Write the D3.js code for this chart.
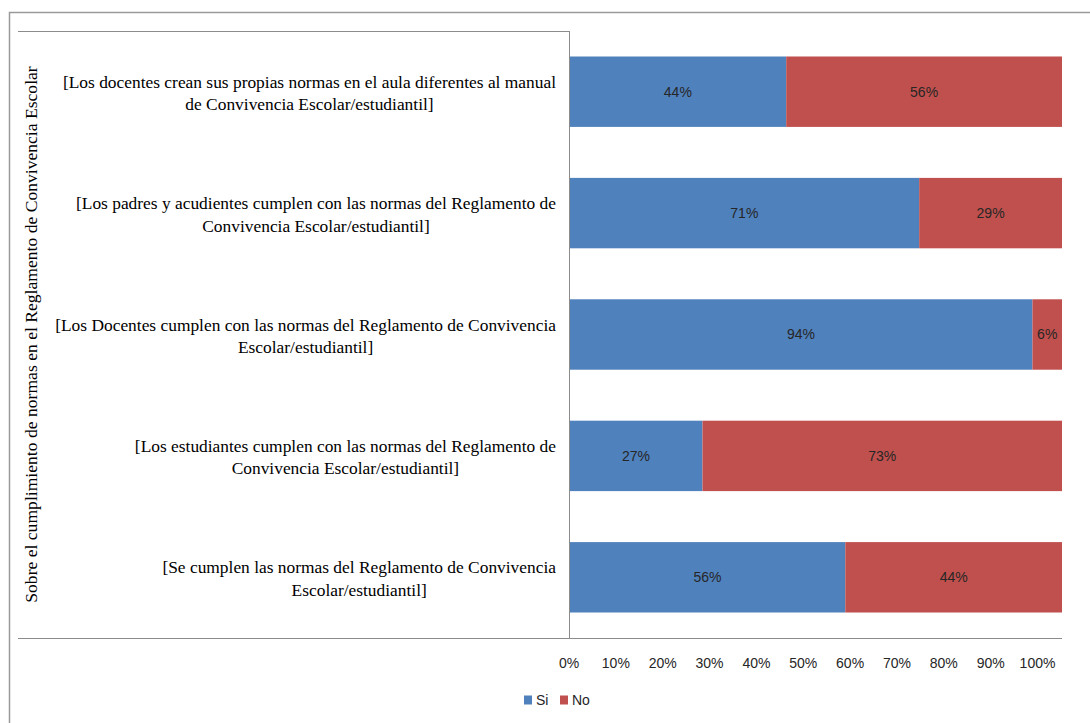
<!DOCTYPE html>
<html>
<head>
<meta charset="utf-8">
<script src="https://cdn.jsdelivr.net/npm/d3@7"></script>
<style>
  html, body { margin: 0; padding: 0; background: #fff; }
  svg { display: block; }
</style>
</head>
<body>
<svg id="chart" width="1090" height="723"></svg>
<script>
const categories = [
  ["[Los docentes crean sus propias normas en el aula diferentes al manual", "de Convivencia Escolar/estudiantil]"],
  ["[Los padres y acudientes cumplen con las normas del Reglamento de", "Convivencia Escolar/estudiantil]"],
  ["[Los Docentes cumplen con las normas del Reglamento de Convivencia", "Escolar/estudiantil]"],
  ["[Los estudiantes cumplen con las normas del Reglamento de", "Convivencia Escolar/estudiantil]"],
  ["[Se cumplen las normas del Reglamento de Convivencia", "Escolar/estudiantil]"]
];
const seriesNames = ["Si", "No"];
const siValues = [44, 71, 94, 27, 56];
const noValues = [56, 29, 6, 73, 44];
const tickValues = [0, 10, 20, 30, 40, 50, 60, 70, 80, 90, 100];
const axisTitle = "Sobre el cumplimiento de normas en el Reglamento de Convivencia Escolar";

const colors = { Si: "#4F81BD", No: "#C0504D" };
const serif = "'Liberation Serif', 'Times New Roman', serif";
const sans = "'Liberation Sans', Arial, sans-serif";

const svg = d3.select("#chart");

// outer chart border (extends beyond the visible area)
svg.append("rect")
  .attr("x", 9.5).attr("y", 12.5)
  .attr("width", 1200).attr("height", 800)
  .attr("fill", "none").attr("stroke", "#9a9a9a").attr("stroke-width", 1.5);

const plotLeft = 569.5, plotRight = 1062, plotTop = 31, plotBottom = 638;

const rows = categories.map((c, i) => ({ key: i, lines: c, Si: siValues[i], No: noValues[i] }));

const y = d3.scaleBand()
  .domain(rows.map(d => d.key))
  .range([plotTop, plotBottom])
  .paddingInner(0.42)
  .paddingOuter(0.21);

const x = d3.scaleLinear().domain([0, 100]).range([plotLeft, plotRight]);
// tick labels in the reference sit on a slightly compressed spacing
const xTicks = d3.scaleLinear().domain([0, 100]).range([plotLeft - 1, 1037]);

const stack = d3.stack().keys(seriesNames);
const stacked = stack(rows);

const g = svg.append("g");
g.selectAll("g.series")
  .data(stacked)
  .join("g")
  .attr("class", "series")
  .attr("fill", d => colors[d.key])
  .selectAll("rect")
  .data(d => d.map(v => ({ v, key: d.key })))
  .join("rect")
  .attr("x", d => x(d.v[0]))
  .attr("y", d => y(d.v.data.key))
  .attr("width", d => x(d.v[1]) - x(d.v[0]))
  .attr("height", y.bandwidth());

// data labels
g.selectAll("g.labels")
  .data(stacked)
  .join("g")
  .attr("class", "labels")
  .selectAll("text")
  .data(d => d.map(v => v))
  .join("text")
  .attr("x", d => (x(d[0]) + x(d[1])) / 2)
  .attr("y", d => y(d.data.key) + y.bandwidth() / 2)
  .attr("dy", "0.35em")
  .attr("text-anchor", "middle")
  .attr("font-family", sans)
  .attr("font-size", 14)
  .attr("fill", "#262626")
  .text(d => (d[1] - d[0]) + "%");

// axis lines
const lineColor = "#8c8c8c";
svg.append("line").attr("x1", 18).attr("x2", plotLeft).attr("y1", plotTop + 0.5).attr("y2", plotTop + 0.5)
  .attr("stroke", lineColor).attr("stroke-width", 1);
svg.append("line").attr("x1", 18).attr("x2", plotRight).attr("y1", plotBottom + 0.5).attr("y2", plotBottom + 0.5)
  .attr("stroke", lineColor).attr("stroke-width", 1);
svg.append("line").attr("x1", plotLeft).attr("x2", plotLeft).attr("y1", plotTop).attr("y2", plotBottom)
  .attr("stroke", lineColor).attr("stroke-width", 1);

// x tick labels
const xAxis = d3.axisBottom(xTicks).tickValues(tickValues).tickFormat(d => d + "%").tickSize(0).tickPadding(0);
const xa = svg.append("g").attr("transform", `translate(0, 657)`).call(xAxis);
xa.select(".domain").remove();
xa.selectAll("text")
  .attr("font-family", sans).attr("font-size", 14).attr("fill", "#262626")
  .attr("dy", "0.35em").attr("y", 6);

// category labels (two lines; first line right-aligned, second centred under it)
const labelRight = 556;
const catG = svg.append("g");
rows.forEach(r => {
  const cy = y(r.key) + y.bandwidth() / 2;
  const t = catG.append("text")
    .attr("font-family", serif).attr("font-size", 17.4).attr("fill", "#000")
    .attr("text-anchor", "middle");
  const t1 = t.append("tspan").attr("y", cy - 4).text(r.lines[0]);
  const w = t1.node().getComputedTextLength();
  const cx = labelRight - w / 2;
  t1.attr("x", cx);
  t.append("tspan").attr("x", cx).attr("y", cy + 18.5).text(r.lines[1]);
});

// rotated axis title
svg.append("text")
  .attr("transform", `translate(31, ${(plotTop + plotBottom) / 2}) rotate(-90)`)
  .attr("text-anchor", "middle")
  .attr("dy", "0.35em")
  .attr("font-family", serif).attr("font-size", 17.6).attr("fill", "#000")
  .text(axisTitle);

// legend
const legend = svg.append("g").attr("transform", "translate(524, 700)");
const legendX = d3.scaleOrdinal().domain(seriesNames).range([0, 36]);
seriesNames.forEach(s => {
  const lg = legend.append("g").attr("transform", `translate(${legendX(s)}, 0)`);
  lg.append("rect").attr("x", 0).attr("y", -4.5).attr("width", 8).attr("height", 9).attr("fill", colors[s]);
  lg.append("text").attr("x", 12).attr("y", 0).attr("dy", "0.35em")
    .attr("font-family", sans).attr("font-size", 14).attr("fill", "#262626").text(s);
});
</script>
</body>
</html>
